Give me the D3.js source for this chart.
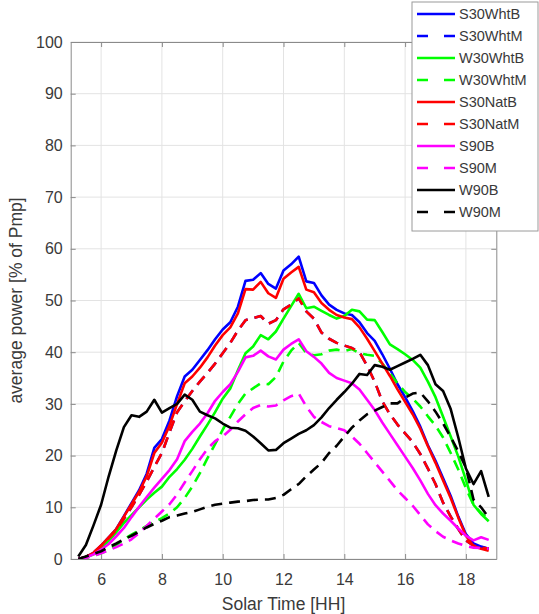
<!DOCTYPE html>
<html>
<head>
<meta charset="utf-8">
<script src="https://cdn.jsdelivr.net/npm/d3@7"></script>
<style>
  html, body { margin: 0; padding: 0; background: #fff; }
  svg { display: block; font-family: "Liberation Sans", Arial, sans-serif; }
</style>
</head>
<body>
<svg id="chart" width="539" height="614"></svg>
<script>
// ---------------- DATA ----------------
const hours = [5.25,5.5,5.75,6,6.25,6.5,6.75,7,7.25,7.5,7.75,8,8.25,8.5,8.75,9,9.25,9.5,9.75,10,
  10.25,10.5,10.75,11,11.25,11.5,11.75,12,12.25,12.5,12.75,13,13.25,13.5,13.75,14,14.25,14.5,14.75,15,
  15.25,15.5,15.75,16,16.25,16.5,16.75,17,17.25,17.5,17.75,18,18.25,18.5,18.75];

const seriesNames = ["S30WhtB","S30WhtM","W30WhtB","W30WhtM","S30NatB","S30NatM","S90B","S90M","W90B","W90M"];

const S30WhtB = [0,0.4,1.2,2.6,4.2,5.8,8.3,10.8,13.3,16.5,21.5,23.2,26.8,31.5,35.3,36.6,38.5,40.4,42.5,44.4,
  45.8,48.8,53.8,54,55.3,53.2,52.3,55.8,57,58.5,53.7,53.4,51,49.2,48.2,47.5,47.2,45.8,43.7,42.2,
  39.6,36.8,33.8,31.3,28.6,25.6,22,19,15.6,12.2,8.2,4.8,3,2.4,2.0];
const S30WhtM = [0,0.4,1.2,2.5,4,5.6,7.8,10,12.4,15,17.8,20.5,24.5,28.4,30.5,32.5,34.3,36,37.8,39.8,
  41.8,44.2,46.2,46.6,47,45.5,46.2,48.3,49.2,50.4,47.9,46.5,43.8,42.6,41.8,41.3,40.8,40,37.4,34.3,
  30.5,28,26,24.3,22.6,20.3,17.5,14.5,10.9,8.2,5.8,3.6,2.6,2.2,2];
const W30WhtB = [0,0.3,0.9,2,3.5,5.2,7,8.5,10,11.5,12.8,14,15.9,17.4,19.2,21.3,23.7,26,28.4,31,
  33,36.5,39.8,41.1,43.3,42.5,44,46.5,48.9,51.3,48.5,48.8,48,47.2,46.5,47,48.2,47.9,46.3,46.2,
  43.9,41.5,40.6,39.6,38.5,37,34.3,31.3,27.5,23.7,19.8,15.3,10.5,8.7,7.3];
const W30WhtM = [0,0.2,0.6,1.1,1.8,2.7,3.8,4.7,5.5,6.4,7.2,7.9,8.8,10,11.8,14,16.6,19.5,22.2,25,
  27.5,30,32,33,34,33.8,35.2,38.2,40.3,41.8,39.8,39.4,39.6,40.3,40.5,40.2,40.6,39.8,39.5,39.3,
  37.8,35.9,34,32.3,31,29.5,27.6,25.8,23.5,20.5,17.3,13.7,10.5,8.9,7.7];
const S30NatB = [0,0.4,1.2,2.6,4.2,5.8,8.2,10.6,13,16,20.5,22.5,25.8,30,34,35.3,37,39,41.3,43.3,
  44.8,47.5,52.2,52.1,53.6,51.4,50.5,54.2,55.4,56.5,52.1,51.6,49.5,48.2,47.2,46.7,46.4,44.8,42.6,40.2,
  37.8,35.4,32.8,30.4,28,25.2,21.8,18.6,15.2,11.8,8,4.5,2.5,2,1.6];
const S30NatM = [0,0.4,1.2,2.5,4,5.6,7.8,10,12.4,15,17.8,20.5,24.5,28.4,30.5,32.5,34.3,36,37.8,39.8,
  41.8,44.2,46.2,46.6,47,45.5,46.2,48.3,49.2,50.4,47.9,46.5,43.8,42.6,41.8,41.3,40.8,40,37.4,34.3,
  30.5,28,26,24.3,22.6,20.3,17.5,14.5,10.9,8.2,5.8,3.6,2.6,2.2,2];
const S90B = [0,0.3,0.9,1.8,2.9,4.4,6,8.1,10.1,12,13.8,15.5,17.2,19.3,22.8,24.6,26.2,28.2,30.6,32.3,
  33.8,36.2,39,39.3,40.3,39.2,38.6,40.5,41.6,42.5,40.2,39.1,37.8,36,35,34.5,34,32.8,30.8,28.8,
  26.4,24.2,22,19.8,17.6,15.2,12.6,10.4,8.8,7.4,5.9,4.5,3.6,4.2,3.7];
const S90M = [0,0.2,0.6,1.1,1.7,2.3,3,3.8,5,6.4,7.8,9.2,10.6,12.5,14.8,17,19.3,21.3,22.8,23.7,
  25,26.6,28,29.2,29.8,29.5,29.7,30.7,31.5,32,29.5,27.5,26.5,25.7,25.3,24.9,23.7,22.3,20.5,18.7,
  16.9,15.1,13.3,11.8,10.3,8.5,6.7,5.4,4.3,3.6,3,2.5,2.2,2.1,2];
const W90B = [0.5,2.7,6.5,10.5,16,21,25.5,27.8,27.5,28.5,30.8,28.3,29.2,30,31.8,30.8,28.5,27.8,27.2,26.2,
  25.4,25.3,24.8,23.7,22.4,21,21.1,22.4,23.3,24.2,24.9,25.9,27.4,29.2,30.8,32.3,33.9,35.8,35.6,37.5,
  37.2,36.6,37.3,38,38.7,39.5,37.5,33.8,32.5,29,23.5,17.5,14.5,17,12];
const W90M = [0,0.5,1,1.5,2.3,3,3.8,4.5,5.3,6.1,6.8,7.4,8.1,8.4,8.8,9.1,9.6,10.1,10.5,10.7,
  10.9,11.1,11.2,11.4,11.5,11.5,11.8,12.4,13.5,14.5,16,17.3,18.6,20.5,21.9,23.7,25.4,26.8,28,28.7,
  29.4,30.1,30.1,31.2,32,32.2,30.5,28.5,26.2,23.6,20.8,17.7,11.5,10,8];

const xTicks = [6, 8, 10, 12, 14, 16, 18];
const yTicks = [0, 10, 20, 30, 40, 50, 60, 70, 80, 90, 100];
const xLabel = "Solar Time [HH]";
const yLabel = "average power [% of Pmp]";

// ---------------- STYLE ----------------
const seriesValues = [S30WhtB, S30WhtM, W30WhtB, W30WhtM, S30NatB, S30NatM, S90B, S90M, W90B, W90M];
const seriesColors = ["#0000ff","#0000ff","#00ff00","#00ff00","#ff0000","#ff0000","#ff00ff","#ff00ff","#000000","#000000"];
const seriesDashed = [false,true,false,true,false,true,false,true,false,true];

const plot = { left: 70.7, right: 496.3, top: 42, bottom: 559 };
const svg = d3.select("#chart");

const x = d3.scaleLinear().domain([5, 19]).range([plot.left, plot.right]);
const y = d3.scaleLinear().domain([0, 100]).range([plot.bottom, plot.top]);

// grid
const grid = svg.append("g");
grid.selectAll("line.gx").data(xTicks).join("line")
  .attr("x1", d => x(d)).attr("x2", d => x(d))
  .attr("y1", plot.top).attr("y2", plot.bottom)
  .attr("stroke", "#e3e3e3").attr("stroke-width", 1);
grid.selectAll("line.gy").data(yTicks).join("line")
  .attr("x1", plot.left).attr("x2", plot.right)
  .attr("y1", d => y(d)).attr("y2", d => y(d))
  .attr("stroke", "#e3e3e3").attr("stroke-width", 1);

// lines
svg.append("clipPath").attr("id", "clip").append("rect")
  .attr("x", plot.left).attr("y", plot.top)
  .attr("width", plot.right - plot.left).attr("height", plot.bottom - plot.top);

const line = d3.line().x((d, i) => x(hours[i])).y(d => y(d));
const lines = svg.append("g").attr("clip-path", "url(#clip)");
seriesValues.forEach((vals, k) => {
  lines.append("path")
    .datum(vals)
    .attr("d", line)
    .attr("fill", "none")
    .attr("stroke", seriesColors[k])
    .attr("stroke-width", 2.6)
    .attr("stroke-linejoin", "round")
    .attr("stroke-dasharray", seriesDashed[k] ? "11,7" : null);
});

// axes
const axisColor = "#8a8a8a", textColor = "#3a3a3a";
function styleAxis(g, showText) {
  g.select(".domain").attr("stroke", axisColor);
  g.selectAll(".tick line").attr("stroke", axisColor);
  g.selectAll(".tick text").attr("fill", textColor).attr("font-size", 16)
    .style("display", showText ? null : "none");
}
svg.append("g").attr("transform", `translate(0,${plot.bottom})`)
  .call(d3.axisBottom(x).tickValues(xTicks).tickSizeInner(-5).tickSizeOuter(0).tickPadding(15))
  .call(g => styleAxis(g, true));
svg.append("g").attr("transform", `translate(0,${plot.top})`)
  .call(d3.axisTop(x).tickValues(xTicks).tickSizeInner(-5).tickSizeOuter(0))
  .call(g => styleAxis(g, false));
svg.append("g").attr("transform", `translate(${plot.left},0)`)
  .call(d3.axisLeft(y).tickValues(yTicks).tickSizeInner(-5).tickSizeOuter(0).tickPadding(8))
  .call(g => styleAxis(g, true));
svg.append("g").attr("transform", `translate(${plot.right},0)`)
  .call(d3.axisRight(y).tickValues(yTicks).tickSizeInner(-5).tickSizeOuter(0))
  .call(g => styleAxis(g, false));

// axis labels
svg.append("text")
  .attr("x", (plot.left + plot.right) / 2).attr("y", 610)
  .attr("text-anchor", "middle").attr("font-size", 17.5).attr("fill", textColor)
  .text(xLabel);
svg.append("text")
  .attr("transform", `translate(22,${(plot.top + plot.bottom) / 2}) rotate(-90)`)
  .attr("text-anchor", "middle").attr("font-size", 17.5).attr("fill", textColor)
  .text(yLabel);

// legend
const leg = { x: 412, y: 2, w: 126, h: 229, first: 14, step: 22 };
const lg = svg.append("g");
lg.append("rect").attr("x", leg.x).attr("y", leg.y).attr("width", leg.w).attr("height", leg.h)
  .attr("fill", "#fff").attr("stroke", "#9a9a9a").attr("stroke-width", 1);
seriesNames.forEach((name, k) => {
  const yy = leg.first + k * leg.step;
  lg.append("line").attr("x1", leg.x + 5).attr("x2", leg.x + 43).attr("y1", yy).attr("y2", yy)
    .attr("stroke", seriesColors[k]).attr("stroke-width", 2.6)
    .attr("stroke-dasharray", seriesDashed[k] ? "11,16" : null);
  lg.append("text").attr("x", leg.x + 47).attr("y", yy).attr("dy", "0.35em")
    .attr("font-size", 14.5).attr("fill", textColor).text(name);
});
</script>
</body>
</html>
